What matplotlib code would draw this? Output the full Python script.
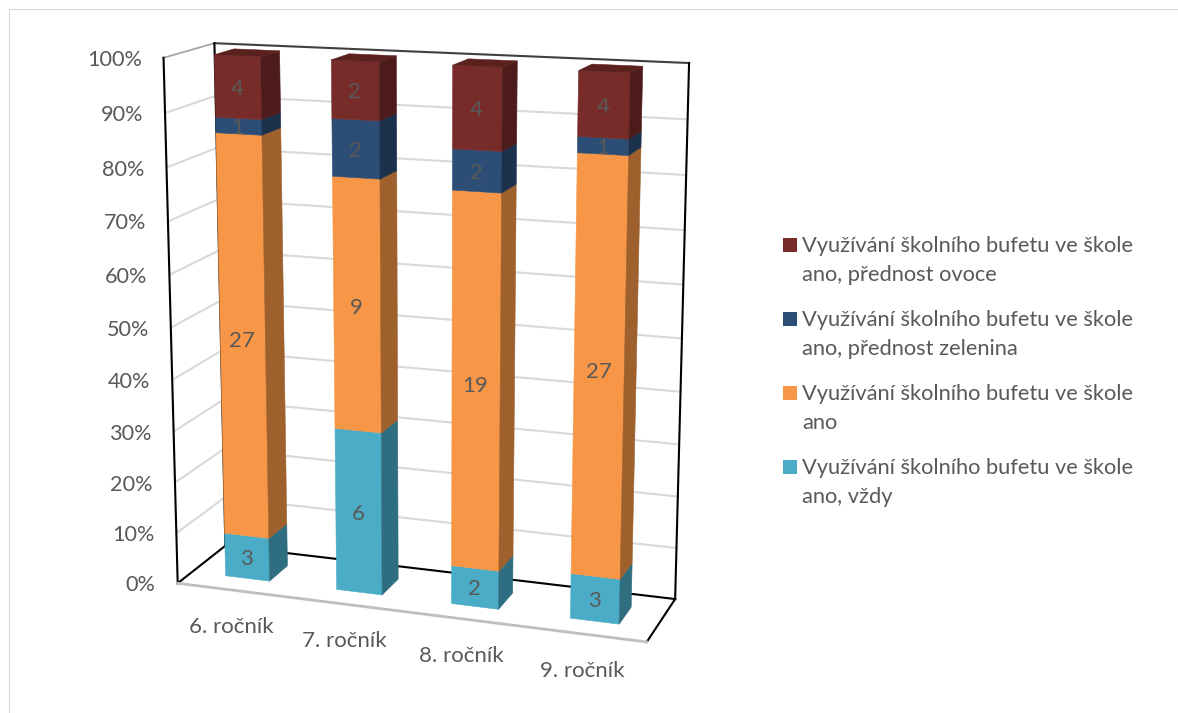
import numpy as np
import matplotlib
matplotlib.use('Agg')
import matplotlib.pyplot as plt
from matplotlib.patches import Polygon, Rectangle

grades = ['6. ročník', '7. ročník', '8. ročník', '9. ročník']

# bottom to top of each stacked bar
always = [3, 6, 2, 3]
yes = [27, 9, 19, 27]
yes_vegetable = [1, 2, 2, 1]
yes_fruit = [4, 2, 4, 4]

series_names = [
    'Využívání školního bufetu ve škole\nano, vždy',
    'Využívání školního bufetu ve škole\nano',
    'Využívání školního bufetu ve škole\nano, přednost zelenina',
    'Využívání školního bufetu ve škole\nano, přednost ovoce',
]
front_colors = ['#4AACC6', '#F79646', '#2C4D75', '#772C2A']
side_colors = ['#2F6E80', '#9E602C', '#1C324C', '#4D1C1A']
top_color = '#5A211F'

y_ticks = list(range(0, 101, 10))
TEXT = '#595959'
FONT = 'Lato'

# box corners on the canvas: (category, percent, depth) -> pixel
box_world = [(0, 0, 0), (4, 0, 0), (0, 0, 1), (4, 0, 1), (0, 100, 0), (0, 100, 1), (4, 100, 1)]
box_pixel = [(178, 583), (647, 642), (225, 546), (675, 599), (163, 58), (215, 43), (689, 63)]


def fit_camera(world, pixel):
    rows, rhs = [], []
    for (x, y, z), (u, v) in zip(world, pixel):
        x, y = x / 4.0, y / 100.0
        rows.append([x, y, z, 1, 0, 0, 0, 0, -u * x, -u * y, -u * z])
        rows.append([0, 0, 0, 0, x, y, z, 1, -v * x, -v * y, -v * z])
        rhs += [u, v]
    p = np.linalg.lstsq(np.array(rows, float), np.array(rhs, float), rcond=None)[0]
    return np.append(p, 1.0).reshape(3, 4)


CAMERA = fit_camera(box_world, box_pixel)


def project(x, y, z):
    u, v, w = CAMERA @ np.array([x / 4.0, y / 100.0, z, 1.0])
    return u / w, v / w


def face(ax, points, color, zorder=3):
    ax.add_patch(Polygon([project(*p) for p in points], closed=True, facecolor=color,
                         edgecolor=color, linewidth=0.4, zorder=zorder))


def edge(ax, a, b, color, width, zorder=2):
    pa, pb = project(*a), project(*b)
    ax.plot([pa[0], pb[0]], [pa[1], pb[1]], color=color, lw=width, solid_capstyle='projecting', zorder=zorder)


fig = plt.figure(figsize=(11.78, 7.13), dpi=100)
ax = fig.add_axes([0, 0, 1, 1])
ax.set_xlim(0, 1178)
ax.set_ylim(713, 0)
ax.axis('off')

# outer chart frame
ax.plot([9, 9, 1178], [713, 9, 9], color='#D9D9D9', lw=0.8)

# gridlines on the side and back walls
for tick in y_ticks[1:-1]:
    edge(ax, (0, tick, 0), (0, tick, 1), '#D9D9D9', 1.5, 1)
    edge(ax, (0, tick, 1), (4, tick, 1), '#D9D9D9', 1.5, 1)

# box edges
edge(ax, (0, 100, 0), (0, 100, 1), '#A6A6A6', 1.3)
edge(ax, (0, 100, 1), (4, 100, 1), '#404040', 1.5)
edge(ax, (0, 0, 1), (0, 100, 1), '#000000', 1.5)
edge(ax, (4, 0, 1), (4, 100, 1), '#000000', 1.5)
edge(ax, (0, 0, 0), (0, 100, 0), '#000000', 1.5)
edge(ax, (0, 0, 0), (0, 0, 1), '#000000', 1.5)
edge(ax, (0, 0, 1), (4, 0, 1), '#000000', 1.5)
edge(ax, (4, 0, 0), (4, 0, 1), '#000000', 1.5)
edge(ax, (0, 0, 0), (4, 0, 0), '#BFBFBF', 2.0)

# stacked bars
values = np.array([always, yes, yes_vegetable, yes_fruit], float)
totals = values.sum(axis=0)
half_width = 0.2
center_shift = 0.505
z0, z1 = 0.3, 0.7

for i in range(len(grades)):
    x0, x1 = i + center_shift - half_width, i + center_shift + half_width
    base = 0.0
    for s in range(len(values)):
        top = base + values[s][i] / totals[i] * 100
        face(ax, [(x0, base, z0), (x1, base, z0), (x1, top, z0), (x0, top, z0)], front_colors[s])
        face(ax, [(x1, base, z0), (x1, base, z1), (x1, top, z1), (x1, top, z0)], side_colors[s])
        lx, ly = project(i + 0.5, (base + top) / 2, z0)
        ax.text(lx, ly + 2, '%d' % values[s][i], color=TEXT, fontsize=16, family=FONT,
                ha='center', va='center', zorder=5)
        base = top
    face(ax, [(x0, 100, z0), (x1, 100, z0), (x1, 100, z1), (x0, 100, z1)], top_color)

# value axis labels follow the front corner of the box
for tick in y_ticks:
    u, v = project(0, tick, 0)
    ax.text(u - 22, v + 2, '%d%%' % tick, color=TEXT, fontsize=15.6, family=FONT, ha='right', va='center')

# category labels follow the front floor edge
for i, name in enumerate(grades):
    u, v = project(i + 0.5, 0, 0)
    ax.text(u - 2, v + 37, name, color=TEXT, fontsize=16, family=FONT, ha='center', va='center')

# legend, reversed so it reads in stacking order
legend_rows = [246, 320, 394, 468]
for row, s in zip(legend_rows, [3, 2, 1, 0]):
    ax.add_patch(Rectangle((783, row - 8), 14, 14, facecolor=front_colors[s], edgecolor='none'))
    first, second = series_names[s].split('\n')
    ax.text(802, row, first, color=TEXT, fontsize=15.75, family=FONT, va='center')
    ax.text(802, row + 29, second, color=TEXT, fontsize=15.75, family=FONT, va='center')

fig.savefig('out.png', dpi=100)
